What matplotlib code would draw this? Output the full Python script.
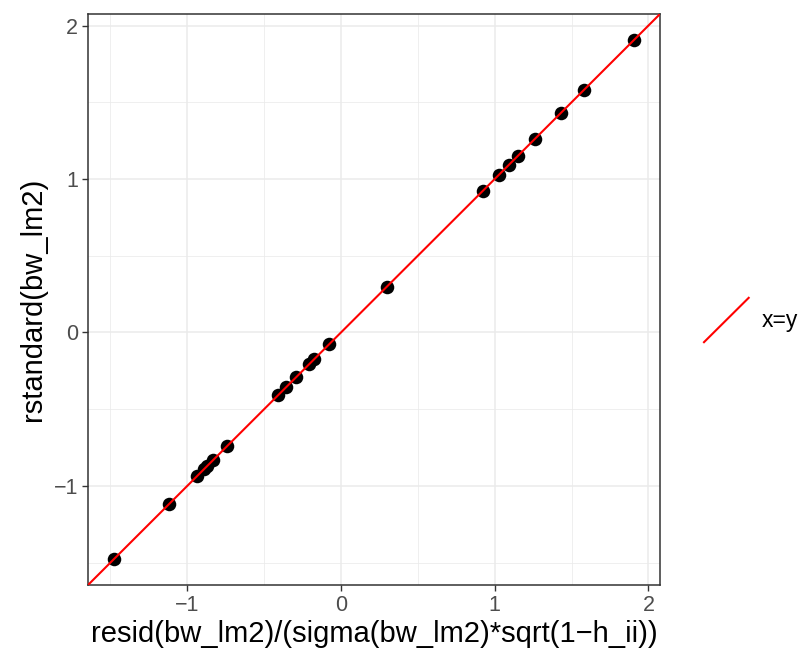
import numpy as np
import matplotlib.pyplot as plt
from matplotlib.legend_handler import HandlerLine2D
from matplotlib.lines import Line2D

# scaled residuals vs rstandard (they coincide)
resid_scaled = [-1.477, -1.119, -0.937, -0.891, -0.872, -0.833, -0.742,
                -0.410, -0.358, -0.293, -0.208, -0.176, -0.078, 0.299,
                0.924, 1.028, 1.093, 1.152, 1.262, 1.431, 1.581, 1.906]
rstandard = list(resid_scaled)

major_ticks = [-1, 0, 1, 2]
minor_ticks = [-1.5, -0.5, 0.5, 1.5]


class DiagHandler(HandlerLine2D):
    def create_artists(self, legend, orig_handle, xdescent, ydescent,
                       width, height, fontsize, trans):
        ln = Line2D([-xdescent, -xdescent + width], [-ydescent, -ydescent + height],
                    color=orig_handle.get_color(), lw=orig_handle.get_linewidth(),
                    transform=trans)
        return [ln]


plt.rcParams['font.family'] = ['Liberation Sans', 'DejaVu Sans']

fig = plt.figure(figsize=(8.04, 6.56), dpi=100)
ax = fig.add_axes([88 / 804, 1 - 585 / 656, (660 - 88) / 804, (585 - 14) / 656])

x = np.array(resid_scaled)
y = np.array(rstandard)
rng = x.max() - x.min()
lo, hi = x.min() - 0.05 * rng, x.max() + 0.05 * rng
ax.set_xlim(lo, hi)
ax.set_ylim(lo, hi)

ax.set_xticks(major_ticks)
ax.set_yticks(major_ticks)
ax.set_xticks(minor_ticks, minor=True)
ax.set_yticks(minor_ticks, minor=True)
ax.set_xticklabels(['\u22121', '0', '1', '2'])
ax.set_yticklabels(['\u22121', '0', '1', '2'])
ax.grid(which='major', color='#EBEBEB', lw=1.1)
ax.grid(which='minor', color='#EBEBEB', lw=0.55)
ax.set_axisbelow(True)
ax.tick_params(which='minor', length=0)
ax.tick_params(which='major', length=4, width=1, color='#333333',
               labelsize=15.5, labelcolor='#4D4D4D', pad=3)
for s in ax.spines.values():
    s.set_color('#333333')
    s.set_linewidth(1.1)

ax.scatter(x, y, s=95, color='black', zorder=3, linewidths=0)
ab = ax.axline((0, 0), slope=1, color='#FF0000', lw=1.5, zorder=4, label='x=y')

ax.set_xlabel('resid(bw_lm2)/(sigma(bw_lm2)*sqrt(1\u2212h_ii))', fontsize=21, labelpad=3)
ax.set_ylabel('rstandard(bw_lm2)', fontsize=21, labelpad=5)

handle = Line2D([], [], color='#FF0000', lw=1.5)
fig.legend([handle], ['x=y'], handler_map={Line2D: DiagHandler()},
           loc='center left', bbox_to_anchor=(704 / 804, 1 - 320 / 656),
           frameon=False, fontsize=16.5, handlelength=1.95, handleheight=2.6,
           handletextpad=0.55, borderaxespad=0, borderpad=0)

fig.savefig('out.png', dpi=100)
